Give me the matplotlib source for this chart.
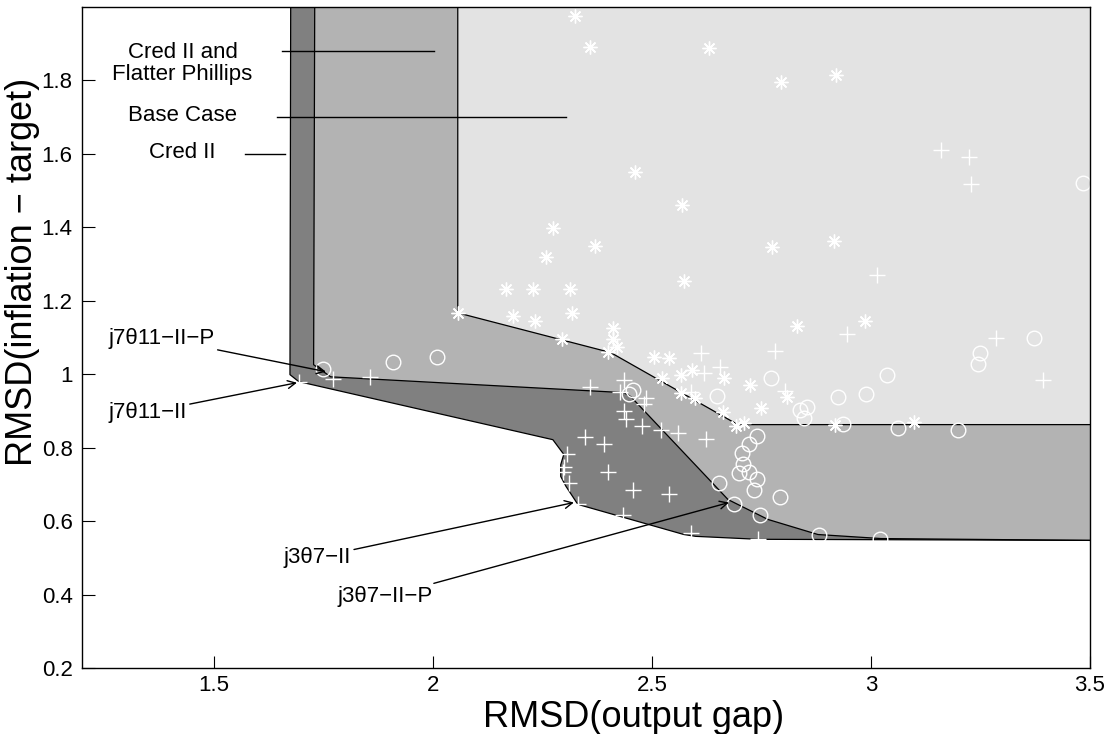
import matplotlib.pyplot as plt
from matplotlib.ticker import FormatStrFormatter

plt.rcParams['font.family'] = ['Liberation Sans', 'DejaVu Sans']

# frontier of each case (lower-left edge of the shaded areas)
cred2_x = [1.676, 1.674, 1.694, 2.274, 2.299, 2.292, 2.292, 2.304, 2.331, 2.573, 2.600, 2.742, 3.5]
cred2_y = [2.0, 0.999, 0.980, 0.822, 0.782, 0.754, 0.722, 0.695, 0.646, 0.564, 0.559, 0.551, 0.548]

flat_x = [1.731, 1.728, 1.767, 2.436, 2.452, 2.674, 2.765, 2.879, 3.023, 3.5]
flat_y = [2.0, 1.026, 0.993, 0.950, 0.939, 0.659, 0.605, 0.564, 0.553, 0.548]

base_x = [2.057, 2.057, 2.406, 2.696, 3.5]
base_y = [2.0, 1.167, 1.059, 0.863, 0.863]

# rules: asterisks, plus signs, circles
star_x = [2.324, 2.358, 2.630, 2.795, 2.920, 2.461, 2.568, 2.274, 2.370, 2.258, 2.774, 2.916,
          2.573, 2.167, 2.228, 2.313, 2.183, 2.233, 2.317, 2.411, 2.831, 2.986, 2.057, 2.295,
          2.411, 2.420, 2.400, 2.505, 2.539, 2.591, 2.566, 2.523, 2.664, 2.724, 2.808, 2.566,
          2.598, 2.749, 2.662, 2.692, 2.710, 2.918, 3.098]
star_y = [1.974, 1.890, 1.888, 1.795, 1.814, 1.550, 1.461, 1.398, 1.349, 1.320, 1.347, 1.363,
          1.254, 1.233, 1.233, 1.233, 1.159, 1.146, 1.167, 1.127, 1.132, 1.146, 1.167, 1.097,
          1.097, 1.075, 1.061, 1.048, 1.045, 1.012, 0.999, 0.991, 0.991, 0.972, 0.939, 0.950,
          0.936, 0.909, 0.896, 0.860, 0.868, 0.863, 0.869]

plus_x = [1.694, 1.772, 1.856, 2.358, 2.436, 2.427, 2.486, 2.482, 2.436, 2.441, 2.477, 2.521,
          2.559, 2.623, 2.347, 2.390, 2.306, 2.299, 2.297, 2.311, 2.400, 2.457, 2.539, 2.331,
          2.434, 2.589, 2.742, 2.612, 2.781, 2.655, 2.619, 2.804, 2.589, 3.160, 3.224, 3.228,
          3.014, 2.945, 3.285, 3.393]
plus_y = [0.980, 0.988, 0.993, 0.964, 0.985, 0.953, 0.936, 0.920, 0.901, 0.879, 0.860, 0.849,
          0.841, 0.825, 0.830, 0.811, 0.784, 0.749, 0.735, 0.705, 0.733, 0.684, 0.675, 0.646,
          0.616, 0.567, 0.553, 1.059, 1.064, 1.021, 1.004, 0.955, 0.953, 1.610, 1.591, 1.518,
          1.271, 1.110, 1.099, 0.983]

circ_x = [1.749, 1.909, 2.009, 2.457, 2.447, 2.772, 2.648, 2.854, 2.838, 2.847, 2.925, 2.989,
          3.037, 3.249, 3.244, 3.372, 3.484, 2.936, 3.062, 3.199, 2.740, 2.721, 2.705, 2.708,
          2.699, 2.721, 2.740, 2.653, 2.733, 2.792, 2.687, 2.747, 2.881, 3.021]
circ_y = [1.015, 1.034, 1.048, 0.958, 0.945, 0.991, 0.942, 0.912, 0.904, 0.882, 0.939, 0.947,
          0.999, 1.059, 1.029, 1.099, 1.521, 0.866, 0.855, 0.849, 0.833, 0.809, 0.787, 0.757,
          0.730, 0.733, 0.716, 0.705, 0.684, 0.667, 0.648, 0.616, 0.564, 0.551]

fig = plt.figure(figsize=(11.12, 7.34), dpi=100)
ax = fig.add_axes([0.074, 0.0895, 0.9062, 0.9014])

# shaded areas, each one filled from its frontier up to the top and to the right
for fx, fy, col in [(cred2_x, cred2_y, '#808080'), (flat_x, flat_y, '#b3b3b3'), (base_x, base_y, '#e3e3e3')]:
    px = fx + [3.7, 3.7]
    py = [2.2] + fy[1:] + [fy[-1], 2.2]
    ax.fill(px, py, facecolor=col, edgecolor='none', zorder=1)
    ax.plot(fx + [3.7], [2.2] + fy[1:] + [fy[-1]], color='black', lw=0.9, zorder=2)

ax.plot(star_x, star_y, linestyle='none', marker=(8, 2, 0), ms=10, mec='white', mew=1, zorder=3)
ax.plot(plus_x, plus_y, linestyle='none', marker='+', ms=11, mec='white', mew=1, zorder=3)
ax.plot(circ_x, circ_y, linestyle='none', marker='o', ms=10.5, mfc='none', mec='white', mew=1, zorder=3)

# labels on the left with their lines
ax.text(1.429, 1.846, 'Cred II and\nFlatter Phillips', ha='center', va='center', fontsize=16, linespacing=1.05)
ax.plot([1.655, 2.002], [1.879, 1.879], color='black', lw=1, zorder=4)
ax.text(1.429, 1.703, 'Base Case', ha='center', va='center', fontsize=16)
ax.plot([1.644, 2.304], [1.700, 1.700], color='black', lw=1, zorder=4)
ax.text(1.429, 1.603, 'Cred II', ha='center', va='center', fontsize=16)
ax.plot([1.571, 1.662], [1.600, 1.600], color='black', lw=1, zorder=4)

arrow = dict(arrowstyle='->', color='black', lw=1, mutation_scale=14, shrinkA=0, shrinkB=0)
ax.annotate('j7\u03b811\u2212II\u2212P', xy=(1.756, 1.007), xytext=(1.260, 1.097),
            ha='left', va='center', fontsize=16, arrowprops=arrow, zorder=4)
ax.annotate('j7\u03b811\u2212II', xy=(1.690, 0.977), xytext=(1.260, 0.896),
            ha='left', va='center', fontsize=16, arrowprops=arrow, zorder=4)
ax.annotate('j3\u03b87\u2212II', xy=(2.322, 0.651), xytext=(1.660, 0.502),
            ha='left', va='center', fontsize=16, arrowprops=arrow, zorder=4)
ax.annotate('j3\u03b87\u2212II\u2212P', xy=(2.676, 0.651), xytext=(1.783, 0.395),
            ha='left', va='center', fontsize=16, arrowprops=arrow, zorder=4)

ax.set_xlim(1.2, 3.5)
ax.set_ylim(0.2, 2.0)
ax.set_xticks([1.5, 2, 2.5, 3, 3.5])
ax.set_yticks([0.2, 0.4, 0.6, 0.8, 1.0, 1.2, 1.4, 1.6, 1.8])
ax.xaxis.set_major_formatter(FormatStrFormatter('%g'))
ax.yaxis.set_major_formatter(FormatStrFormatter('%g'))
ax.tick_params(direction='in', length=9, width=0.8, labelsize=16)
ax.tick_params(axis='x', pad=5)
ax.tick_params(axis='y', pad=7)
for s in ax.spines.values():
    s.set_linewidth(1)
    s.set_zorder(5)

ax.set_xlabel('RMSD(output gap)', fontsize=26)
ax.xaxis.set_label_coords(0.547, -0.0475)
ax.set_ylabel('RMSD(inflation \u2212 target)', fontsize=26)
ax.yaxis.set_label_coords(-0.042, 0.599)

fig.savefig('out.png', dpi=100)
